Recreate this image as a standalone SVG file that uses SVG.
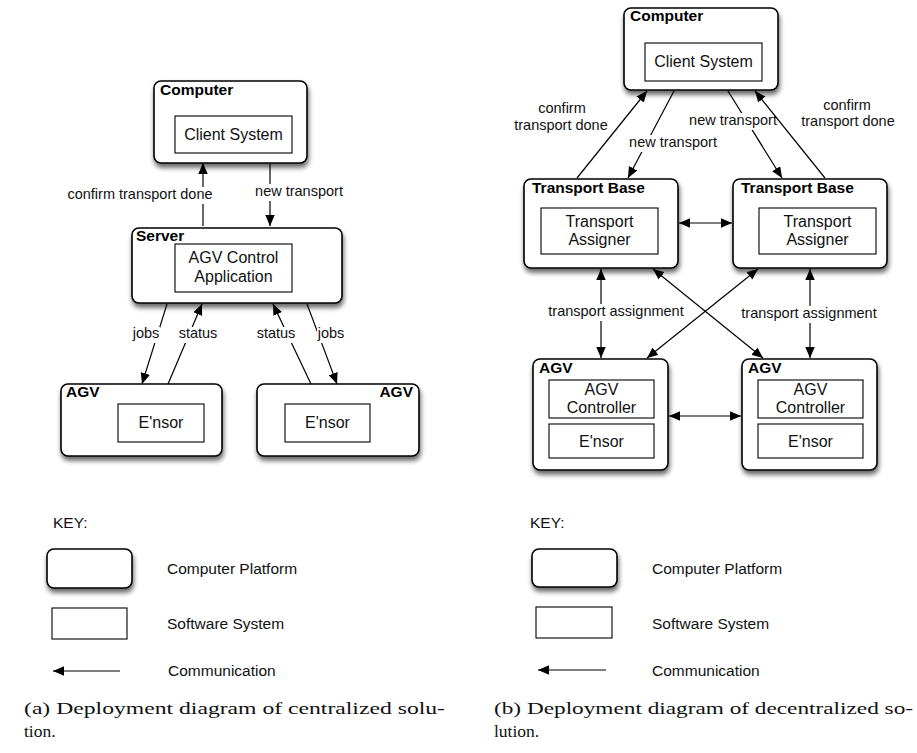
<svg xmlns="http://www.w3.org/2000/svg" width="917" height="753" viewBox="0 0 917 753">
  <style>
    .platform { fill: #ffffff; stroke: #000000; stroke-width: 1.6; filter: url(#shadow); }
    .software { fill: #ffffff; stroke: #000000; stroke-width: 1.1; }
    .title { font-family: "Liberation Sans", Arial, sans-serif; font-size: 15.5px; font-weight: bold; fill: #000000; }
    .name { font-family: "Liberation Sans", Arial, sans-serif; font-size: 16px; fill: #111111; text-anchor: middle; }
    .lbl { font-family: "Liberation Sans", Arial, sans-serif; font-size: 14.5px; fill: #111111; text-anchor: middle; }
    .keytxt { font-family: "Liberation Sans", Arial, sans-serif; font-size: 15.5px; fill: #111111; }
    .bg { fill: #ffffff; stroke: none; }
    .edge { stroke: #000000; stroke-width: 1.2; fill: none; }
    .one { marker-end: url(#head); }
    .two { marker-start: url(#head); marker-end: url(#head); }
    .caption { font-family: "Liberation Serif", "Times New Roman", serif; font-size: 17.5px; fill: #111111; }
  </style>
  <defs>
    <filter id="shadow" x="-20%" y="-20%" width="140%" height="150%">
      <feGaussianBlur in="SourceAlpha" stdDeviation="2.6"/>
      <feOffset dx="1" dy="3.5" result="blur"/>
      <feComponentTransfer><feFuncA type="linear" slope="0.6"/></feComponentTransfer>
      <feMerge><feMergeNode/><feMergeNode in="SourceGraphic"/></feMerge>
    </filter>
    <marker id="head" markerUnits="userSpaceOnUse" markerWidth="12" markerHeight="10" refX="11" refY="4.75" orient="auto-start-reverse">
      <path d="M0,0 L11,4.75 L0,9.5 z" fill="#000000"/>
    </marker>
  </defs>

  <rect width="917" height="753" fill="#ffffff"/>

  <!-- ===== (a) centralized ===== -->
  <g id="a-computer">
    <rect class="platform" x="154" y="81" width="153" height="82" rx="7"/>
    <text class="title" x="160" y="95">Computer</text>
    <rect class="software" x="175" y="116" width="117" height="37"/>
    <text class="name" x="233.5" y="140">Client System</text>
  </g>
  <g id="a-server">
    <rect class="platform" x="132" y="228" width="210" height="75" rx="7"/>
    <text class="title" x="136" y="241">Server</text>
    <rect class="software" x="175" y="244" width="117" height="48"/>
    <text class="name" x="233.5" y="263">AGV Control</text>
    <text class="name" x="233.5" y="282">Application</text>
  </g>
  <g id="a-agv-left">
    <rect class="platform" x="61" y="384" width="161" height="72" rx="7"/>
    <text class="title" x="66" y="397">AGV</text>
    <rect class="software" x="118" y="404" width="86" height="38"/>
    <text class="name" x="161" y="428">E'nsor</text>
  </g>
  <g id="a-agv-right">
    <rect class="platform" x="257" y="384" width="162" height="72" rx="7"/>
    <text class="title" x="413" y="397" text-anchor="end">AGV</text>
    <rect class="software" x="285" y="404" width="85" height="38"/>
    <text class="name" x="327.5" y="428">E'nsor</text>
  </g>

  <g id="a-connectors">
    <line class="edge one" x1="203" y1="226" x2="203" y2="163"/>
    <rect class="bg" x="66" y="187" width="149" height="17"/>
    <text class="lbl" x="140" y="199">confirm transport done</text>

    <line class="edge one" x1="270" y1="164" x2="270" y2="226"/>
    <rect class="bg" x="254" y="184" width="90" height="17"/>
    <text class="lbl" x="299" y="196">new transport</text>

    <line class="edge one" x1="167" y1="304" x2="142" y2="384"/>
    <rect class="bg" x="132" y="327" width="28" height="16"/>
    <text class="lbl" x="146" y="338">jobs</text>

    <line class="edge one" x1="168" y1="384" x2="202" y2="304"/>
    <rect class="bg" x="178" y="327" width="40" height="16"/>
    <text class="lbl" x="198" y="338">status</text>

    <line class="edge one" x1="311" y1="384" x2="273" y2="304"/>
    <rect class="bg" x="256" y="327" width="40" height="16"/>
    <text class="lbl" x="276" y="338">status</text>

    <line class="edge one" x1="307" y1="304" x2="337" y2="384"/>
    <rect class="bg" x="317" y="327" width="28" height="16"/>
    <text class="lbl" x="331" y="338">jobs</text>
  </g>

  <g id="a-key">
    <text class="keytxt" x="53" y="528">KEY:</text>
    <rect class="platform" x="47" y="549" width="85" height="39" rx="7"/>
    <text class="keytxt" x="167" y="574">Computer Platform</text>
    <rect class="software" x="52" y="608" width="75" height="31"/>
    <text class="keytxt" x="167" y="629">Software System</text>
    <line class="edge one" x1="120" y1="671" x2="53" y2="671"/>
    <text class="keytxt" x="168" y="676">Communication</text>
  </g>

  <g id="a-caption">
    <text class="caption" x="24" y="714" textLength="421" lengthAdjust="spacingAndGlyphs">(a) Deployment diagram of centralized solu-</text>
    <text class="caption" x="24" y="737">tion.</text>
  </g>

  <!-- ===== (b) decentralized ===== -->
  <g id="b-computer">
    <rect class="platform" x="624" y="8" width="154" height="82" rx="7"/>
    <text class="title" x="630" y="21">Computer</text>
    <rect class="software" x="645" y="43" width="117" height="38"/>
    <text class="name" x="703.5" y="67">Client System</text>
  </g>
  <g id="b-base-left">
    <rect class="platform" x="524" y="179" width="154" height="89" rx="7"/>
    <text class="title" x="532" y="193">Transport Base</text>
    <rect class="software" x="541" y="208" width="117" height="46"/>
    <text class="name" x="599.5" y="227">Transport</text>
    <text class="name" x="599.5" y="245">Assigner</text>
  </g>
  <g id="b-base-right">
    <rect class="platform" x="733" y="179" width="154" height="89" rx="7"/>
    <text class="title" x="741" y="193">Transport Base</text>
    <rect class="software" x="759" y="208" width="117" height="46"/>
    <text class="name" x="817.5" y="227">Transport</text>
    <text class="name" x="817.5" y="245">Assigner</text>
  </g>
  <g id="b-agv-left">
    <rect class="platform" x="533" y="359" width="135" height="111" rx="7"/>
    <text class="title" x="539" y="373">AGV</text>
    <rect class="software" x="549" y="380" width="105" height="38"/>
    <text class="name" x="601.5" y="395">AGV</text>
    <text class="name" x="601.5" y="413">Controller</text>
    <rect class="software" x="549" y="424" width="105" height="34"/>
    <text class="name" x="601.5" y="447">E'nsor</text>
  </g>
  <g id="b-agv-right">
    <rect class="platform" x="742" y="359" width="135" height="111" rx="7"/>
    <text class="title" x="748" y="373">AGV</text>
    <rect class="software" x="758" y="380" width="105" height="38"/>
    <text class="name" x="810.5" y="395">AGV</text>
    <text class="name" x="810.5" y="413">Controller</text>
    <rect class="software" x="758" y="424" width="105" height="34"/>
    <text class="name" x="810.5" y="447">E'nsor</text>
  </g>

  <g id="b-connectors">
    <line class="edge one" x1="577" y1="178" x2="647" y2="91"/>
    <text class="lbl" x="562" y="113">confirm</text>
    <text class="lbl" x="561" y="130">transport done</text>

    <line class="edge one" x1="674" y1="91" x2="628" y2="178"/>
    <rect class="bg" x="628" y="135" width="90" height="17"/>
    <text class="lbl" x="673" y="147">new transport</text>

    <line class="edge one" x1="728" y1="91" x2="782" y2="178"/>
    <rect class="bg" x="688" y="113" width="90" height="17"/>
    <text class="lbl" x="733" y="125">new transport</text>

    <line class="edge one" x1="825" y1="178" x2="755" y2="91"/>
    <text class="lbl" x="847" y="110">confirm</text>
    <text class="lbl" x="848" y="126">transport done</text>

    <line class="edge two" x1="679" y1="223" x2="732" y2="223"/>

    <line class="edge two" x1="601" y1="269" x2="601" y2="358"/>
    <rect class="bg" x="547" y="304" width="138" height="17"/>
    <text class="lbl" x="616" y="316">transport assignment</text>

    <line class="edge two" x1="810" y1="269" x2="810" y2="358"/>
    <rect class="bg" x="740" y="306" width="138" height="17"/>
    <text class="lbl" x="809" y="318">transport assignment</text>

    <line class="edge two" x1="653" y1="269" x2="763" y2="358"/>
    <line class="edge two" x1="758" y1="269" x2="647" y2="358"/>

    <line class="edge two" x1="669" y1="416" x2="741" y2="416"/>
  </g>

  <g id="b-key">
    <text class="keytxt" x="530" y="528">KEY:</text>
    <rect class="platform" x="532" y="549" width="85" height="38" rx="7"/>
    <text class="keytxt" x="652" y="574">Computer Platform</text>
    <rect class="software" x="536" y="607" width="76" height="31"/>
    <text class="keytxt" x="652" y="629">Software System</text>
    <line class="edge one" x1="606" y1="670" x2="538" y2="670"/>
    <text class="keytxt" x="652" y="676">Communication</text>
  </g>

  <g id="b-caption">
    <text class="caption" x="494" y="714" textLength="419" lengthAdjust="spacingAndGlyphs">(b) Deployment diagram of decentralized so-</text>
    <text class="caption" x="494" y="737">lution.</text>
  </g>
</svg>
